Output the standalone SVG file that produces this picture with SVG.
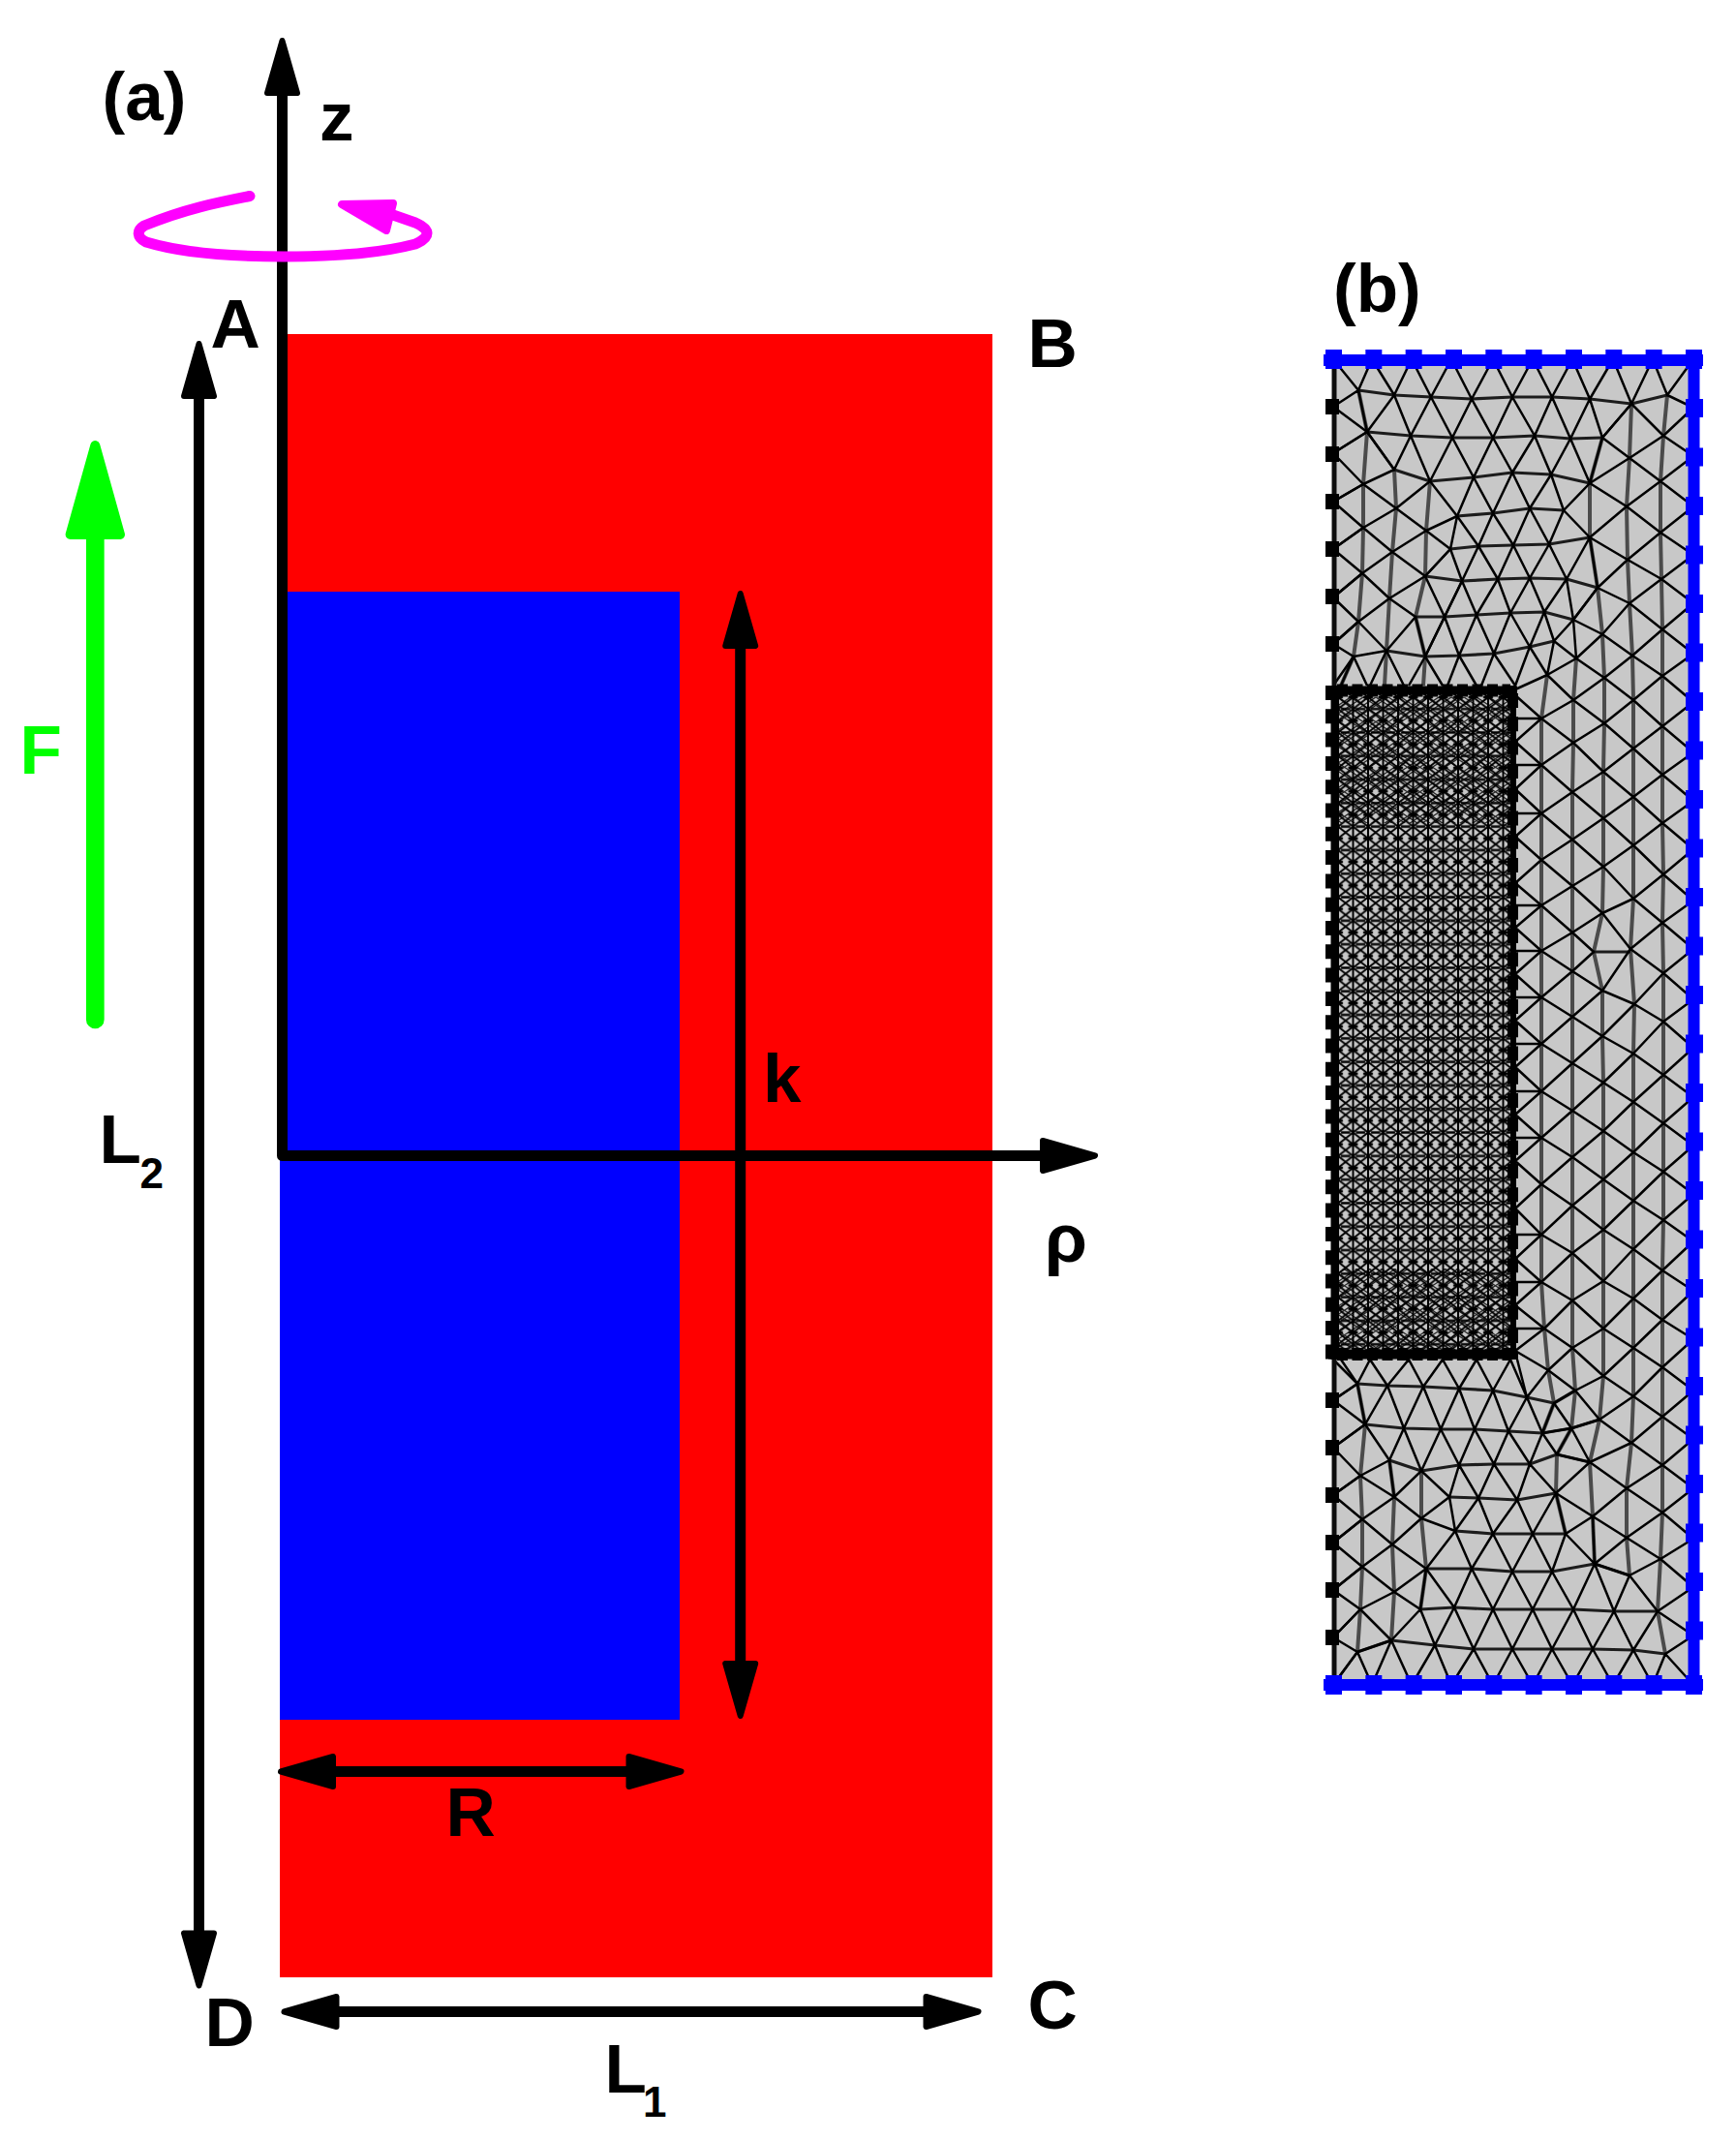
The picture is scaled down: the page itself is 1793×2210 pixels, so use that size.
<svg xmlns="http://www.w3.org/2000/svg" width="1793" height="2210" viewBox="0 0 1793 2210">
<style>
text{font-family:"Liberation Sans",Arial,sans-serif;font-weight:700;font-size:71px;fill:#000}
.sub{font-size:44px}
.ax{stroke:#000;stroke-width:11;fill:none;stroke-linecap:butt}
.d,.g,.v{fill:none;stroke-linejoin:round}
.d{stroke:#000;stroke-width:2.5}
.g{stroke:#1c1c1c;stroke-width:3.2}
.v{stroke:#4c4c4c;stroke-width:4}
</style>
<defs>
<path id="head" d="M0,4 L15.5,58 H-15.5 Z" fill="#000" stroke="#000" stroke-width="6" stroke-linejoin="round"/>
<filter id="soft" x="-2%" y="-2%" width="104%" height="104%"><feGaussianBlur stdDeviation="0.55"/></filter>
<pattern id="fine" patternUnits="userSpaceOnUse" x="1382" y="720" width="15.5" height="24.3">
<path d="M0,0V24.3M15.5,0V24.3M0,0L15.5,12.15L0,24.3M15.5,0L0,12.15L15.5,24.3" fill="none" stroke="#000" stroke-width="2"/>
<path d="M-5,0H5M10.5,0H20.5M-5,24.3H5M10.5,24.3H20.5M3,12.15H12.5" fill="none" stroke="#000" stroke-width="2.6"/>
</pattern>
<pattern id="finer" patternUnits="userSpaceOnUse" x="1382" y="720" width="13" height="17">
<path d="M0,0L13,8.5L0,17M13,0L0,8.5L13,17" fill="none" stroke="#000" stroke-width="1.4"/>
</pattern>
</defs>

<g id="body">
<rect x="289" y="345" width="736" height="1697" fill="#ff0000"/>
<rect x="289" y="611" width="413" height="1165" fill="#0000ff"/>
</g>

<g id="connectors">
<path class="ax" d="M291.5,95V1193.5H1080" stroke-linejoin="round"/>
<use href="#head" x="291.5" y="38"/>
<use href="#head" transform="translate(1135,1193.5) rotate(90)"/>
<path class="ax" d="M205.5,405V2000"/>
<use href="#head" x="205.5" y="351"/>
<use href="#head" transform="translate(205.5,2054.5) rotate(180)"/>
<path class="ax" d="M764.7,665V1720"/>
<use href="#head" x="764.7" y="609"/>
<use href="#head" transform="translate(764.7,1776) rotate(180)"/>
<path class="ax" d="M340,1829.5H655"/>
<use href="#head" transform="translate(286,1829.5) rotate(-90)"/>
<use href="#head" transform="translate(707.5,1829.5) rotate(90)"/>
<path class="ax" d="M345,2077.5H960"/>
<use href="#head" transform="translate(289.5,2077.5) rotate(-90)"/>
<use href="#head" transform="translate(1014.5,2077.5) rotate(90)"/>
<g id="force">
<path d="M98.3,550V1053" fill="none" stroke="#00ff00" stroke-width="18.7" stroke-linecap="round"/>
<path d="M98.3,460 L124,552 H72.6 Z" fill="#00ff00" stroke="#00ff00" stroke-width="10" stroke-linejoin="round"/>
</g>
<g id="rotation">
<path d="M258,202.5 C225,209 190,216 149,233 C141,238 141,245 151,250 C190,262 240,265 293,265 C345,265 395,261 429,252 C445,245 445,237 429,230 L406,222" fill="none" stroke="#ff00ff" stroke-width="11" stroke-linecap="round" stroke-linejoin="round"/>
<path d="M353,211 L406,210 L399,238 Z" fill="#ff00ff" stroke="#ff00ff" stroke-width="8" stroke-linejoin="round"/>
</g>
</g>

<g id="labels">
<text x="105.5" y="124">(a)</text>
<text x="330" y="145">z</text>
<text x="217.5" y="359">A</text>
<text x="1061.5" y="379">B</text>
<text x="1061.5" y="2095">C</text>
<text x="211.5" y="2113">D</text>
<text x="460.5" y="1895.5">R</text>
<text x="788" y="1137.5">k</text>
<text x="1079" y="1303">ρ</text>
<text x="20.5" y="798.5" style="fill:#00ff00">F</text>
<text x="102.5" y="1200.5">L</text><text class="sub" x="144.5" y="1226.5">2</text>
<text x="624.5" y="2160.5">L</text><text class="sub" x="664" y="2185.5">1</text>
<text x="1377" y="322">(b)</text>
</g>

<g id="mesh" filter="url(#soft)">
<rect x="1377" y="371" width="372" height="1369" fill="#c8c8c8"/>

<rect x="1380" y="715" width="183" height="685" fill="url(#fine)"/>
<rect x="1382" y="720" width="180" height="130" fill="url(#finer)" opacity="0.8"/>
<rect x="1382" y="1310" width="180" height="86" fill="url(#finer)" opacity="0.8"/>

<g id="mesh-verticals">
<path class="v" d="M1722,408 1718,450 1715,497 1715,550 1716,598 1717,650 1717,698 1717,750 1717,800 1717,850 1718,903 1717,953 1718,1005 1718,1055 1718,1110 1718,1160 1718,1210 1718,1260 1717,1312 1717,1363 1717,1412 1717,1463 1717,1513 1717,1562 1715,1610 1712,1664 1720,1708"/>
<path class="v" d="M1685,417 1683,473 1680,523 1681,578 1683,623 1686,677 1687,723 1687,773 1687,823 1687,873 1687,928 1684,980 1688,1037 1687,1088 1687,1138 1687,1190 1687,1240 1687,1290 1687,1341 1687,1392 1687,1442 1685,1490 1680,1537 1680,1588 1683,1627"/>
<path class="v" d="M1655,452 1642,499 1642,555 1650,607 1655,655 1657,700 1657,747 1656,797 1656,845 1656,895 1655,943 1646,983 1655,1023 1655,1070 1656,1118 1656,1168 1656,1218 1656,1270 1656,1323 1656,1372 1656,1421 1652,1466 1642,1510 1645,1566 1647,1615"/>
<path class="v" d="M1628,680 1625,723 1625,767 1624,818 1624,867 1624,915 1624,963 1624,1003 1624,1050 1624,1098 1624,1147 1624,1195 1624,1245 1624,1294 1624,1343 1624,1392 1627,1436 1623,1475 1608,1502 1607,1542 1617,1584"/>
<path class="v" d="M1598,697 1592,742 1592,790 1592,840 1592,888 1592,935 1592,982 1592,1030 1592,1078 1592,1127 1592,1175 1592,1223 1592,1275 1592,1324 1595,1372 1599,1415 1605,1449 1593,1480"/>
<path class="v" d="M1403,403 1412,446 1408,500 1408,545 1407,592 1403,642 1398,678 1385,708M1440,485 1442,525 1438,570 1435,618 1432,672 1430,708M1477,497 1473,548 1472,595 1462,637 1472,678 1470,708M1402,1429 1410,1471 1405,1524 1407,1569 1407,1618 1405,1662 1402,1706M1435,1508 1440,1546 1438,1595 1440,1644 1437,1694M1468,1519 1468,1568 1473,1620 1467,1662"/>
</g>

<g id="mesh-rows">
<path class="g" d="M1403,403 1440,408 1478,410 1520,412 1562,410 1603,410 1642,412 1685,417 1722,408"/>
<path class="g" d="M1412,446 1457,450 1500,452 1542,452 1585,450 1622,453 1655,452"/>
<path class="g" d="M1440,485 1477,497 1522,493 1562,488 1602,490 1642,499"/>
<path class="g" d="M1505,533 1542,530 1580,525 1615,527"/>
<path class="g" d="M1498,567 1527,564 1563,563 1600,562 1642,555"/>
<path class="g" d="M1472,595 1510,600 1547,598 1580,597 1618,598 1650,607"/>
<path class="g" d="M1462,637 1492,637 1525,635 1560,633 1595,632 1625,640"/>
<path class="g" d="M1432,672 1472,678 1507,677 1543,675 1580,668 1605,662"/>
<path class="g" d="M1402,1429 1433,1431 1470,1432 1507,1434 1542,1436 1577,1443 1605,1449 1627,1436"/>
<path class="g" d="M1410,1471 1450,1475 1488,1476 1523,1476 1558,1478 1593,1480 1623,1475 1652,1466"/>
<path class="g" d="M1435,1508 1468,1519 1507,1513 1543,1512 1580,1512 1608,1502 1642,1510"/>
<path class="g" d="M1497,1546 1527,1547 1567,1549 1607,1542"/>
<path class="g" d="M1503,1581 1542,1584 1583,1584 1617,1584"/>
<path class="g" d="M1473,1620 1520,1620 1562,1623 1603,1623 1647,1615 1683,1627"/>
<path class="g" d="M1467,1662 1502,1660 1542,1662 1583,1662 1625,1662 1667,1664 1712,1664"/>
<path class="g" d="M1402,1706 1437,1694 1482,1699 1522,1703 1562,1703 1603,1703 1645,1703 1687,1704 1720,1708"/>
<path class="g" d="M1646,983H1684"/>
</g>

<g id="mesh-diagonals">
<path class="d" d="M1377,371 1403,403 1417,371 1440,408 1458,371 1478,410 1499,371 1520,412 1542,371 1562,410 1583,371 1603,410 1624,371 1642,412 1666,371 1685,417 1707,371 1722,408 1749,371"/>
<path class="d" d="M1377,420 1403,403 1412,446 1440,408 1457,450 1478,410 1500,452 1520,412 1542,452 1562,410 1585,450 1603,410 1622,453 1642,412 1655,452 1685,417"/>
<path class="d" d="M1412,446 1440,485 1457,450 1477,497 1500,452 1522,493 1542,452 1562,488 1585,450 1602,490 1622,453 1642,499 1655,452"/>
<path class="d" d="M1377,420 1412,446 1377,468 1408,500 1377,518 1408,545 1377,567 1407,592 1377,617 1403,642 1377,665 1398,678 1377,708"/>
<path class="d" d="M1412,446 1377,468M1408,500 1377,518M1408,545 1377,567M1407,592 1377,617M1403,642 1377,665"/>
<path class="d" d="M1412,446 1440,485 1408,500 1442,525 1408,545 1438,570 1407,592 1435,618 1403,642 1432,672 1398,678"/>
<path class="d" d="M1442,525 1477,497M1442,525 1473,548 1438,570 1472,595 1435,618 1462,637 1432,672"/>
<path class="d" d="M1477,497 1505,533 1473,548 1498,567 1472,595 1492,637 1510,600M1492,637 1472,678 1462,637"/>
<path class="d" d="M1505,533 1522,493 1542,530 1562,488 1580,525 1602,490 1615,527 1642,499"/>
<path class="d" d="M1615,527 1642,555M1498,567 1505,533 1527,564 1542,530 1563,563 1580,525 1600,562 1615,527"/>
<path class="d" d="M1472,595 1498,567 1510,600 1527,564 1547,598 1563,563 1580,597 1600,562 1618,598 1642,555 1650,607"/>
<path class="d" d="M1492,637 1510,600 1525,635 1547,598 1560,633 1580,597 1595,632 1618,598 1625,640 1650,607"/>
<path class="d" d="M1472,678 1492,637 1507,677 1525,635 1543,675 1560,633 1580,668 1595,632 1605,662 1625,640 1628,680"/>
<path class="d" d="M1385,708 1398,678 1412,708M1415,708 1432,672 1450,708M1455,708 1472,678 1490,708M1495,708 1507,677 1525,708M1530,708 1543,675 1565,708M1565,708 1580,668 1598,697 1605,662 1628,680M1565,712 1598,697"/>
<path class="d" d="M1722,408 1749,421 1718,450 1749,471 1715,497 1749,523 1715,550 1749,573 1716,598 1749,623 1717,650 1749,675 1717,698 1749,725 1717,750 1749,777 1717,800 1749,827 1717,850 1749,877 1718,903 1749,930 1717,953 1749,980 1718,1005 1749,1032 1718,1055 1749,1082 1718,1110 1749,1133 1718,1160 1749,1183 1718,1210 1749,1233 1718,1260 1749,1282 1717,1312 1749,1333 1717,1363 1749,1383 1717,1412 1749,1436 1717,1463 1749,1486 1717,1513 1749,1537 1717,1562 1749,1589 1715,1610 1749,1639 1712,1664 1749,1689 1720,1708"/>
<path class="d" d="M1685,417 1718,450 1683,473 1715,497 1680,523 1715,550 1681,578 1716,598 1683,623 1717,650 1686,677 1717,698 1687,723 1717,750 1687,773 1717,800 1687,823 1717,850 1687,873 1718,903 1687,928 1717,953 1684,980 1718,1005 1688,1037 1718,1055 1687,1088 1718,1110 1687,1138 1718,1160 1687,1190 1718,1210 1687,1240 1718,1260 1687,1290 1717,1312 1687,1341 1717,1363 1687,1392 1717,1412 1687,1442 1717,1463 1685,1490 1717,1513 1680,1537 1717,1562 1680,1588 1715,1610 1683,1627 1712,1664"/>
<path class="d" d="M1685,417 1655,452 1683,473 1642,499 1680,523 1642,555 1681,578 1650,607 1683,623 1655,655 1686,677 1657,700 1687,723 1657,747 1687,773 1656,797 1687,823 1656,845 1687,873 1656,895 1687,928 1655,943 1684,980 1655,1023 1688,1037 1655,1070 1687,1088 1656,1118 1687,1138 1656,1168 1687,1190 1656,1218 1687,1240 1656,1270 1687,1290 1656,1323 1687,1341 1656,1372 1687,1392 1656,1421 1687,1442 1652,1466 1685,1490 1642,1510 1680,1537 1645,1566 1680,1588 1647,1615 1683,1627"/>
<path class="d" d="M1650,607 1625,640 1655,655 1628,680 1657,700 1625,723 1657,747 1625,767 1656,797 1624,818 1656,845 1624,867 1656,895 1624,915 1655,943 1624,963 1646,983 1624,1003 1655,1023 1624,1050 1655,1070 1624,1098 1656,1118 1624,1147 1656,1168 1624,1195 1656,1218 1624,1245 1656,1270 1624,1294 1656,1323 1624,1343 1656,1372 1624,1392 1656,1421 1627,1436 1652,1466 1623,1475 1642,1510 1608,1502"/>
<path class="d" d="M1628,680 1598,697 1625,723 1592,742 1625,767 1592,790 1624,818 1592,840 1624,867 1592,888 1624,915 1592,935 1624,963 1592,982 1624,1003 1592,1030 1624,1050 1592,1078 1624,1098 1592,1127 1624,1147 1592,1175 1624,1195 1592,1223 1624,1245 1592,1275 1624,1294 1592,1324 1624,1343 1595,1372 1624,1392 1599,1415 1627,1436 1605,1449 1623,1475 1593,1480"/>
<path class="d" d="M1565,718 1592,742 1565,766 1592,790 1565,815 1592,840 1565,864 1592,888 1565,912 1592,935 1565,958 1592,982 1565,1006 1592,1030 1565,1054 1592,1078 1565,1102 1592,1127 1565,1151 1592,1175 1565,1199 1592,1223 1565,1248 1592,1275 1565,1300 1592,1324 1565,1348 1595,1372 1565,1395 1599,1415 1577,1443 1567,1404"/>
<path class="d" d="M1565,742H1592M1565,790H1592M1565,840H1592M1565,935H1592M1565,982H1592M1565,1030H1592M1565,1078H1592M1565,1127H1592M1565,1175H1592M1565,1275H1592M1565,1324H1592M1565,1372H1595"/>
<path class="d" d="M1385,1404 1402,1429 1415,1404 1433,1431 1455,1404 1470,1432 1490,1404 1507,1434 1525,1404 1542,1436 1560,1404 1577,1443"/>
<path class="d" d="M1377,1404 1402,1429 1377,1446 1410,1471 1377,1495 1405,1524 1377,1544 1407,1569 1377,1593 1407,1618 1377,1642 1405,1662 1377,1691 1402,1706 1377,1740"/>
<path class="d" d="M1377,1446 1402,1429M1377,1495 1410,1471M1377,1544 1405,1524M1377,1593 1407,1569M1377,1642 1407,1618M1377,1691 1405,1662"/>
<path class="d" d="M1402,1429 1410,1471 1433,1431 1450,1475 1470,1432 1488,1476 1507,1434 1523,1476 1542,1436 1558,1478 1577,1443 1593,1480 1605,1449"/>
<path class="d" d="M1410,1471 1435,1508 1450,1475 1468,1519 1488,1476 1507,1513 1523,1476 1543,1512 1558,1478 1580,1512 1593,1480 1608,1502 1623,1475"/>
<path class="d" d="M1405,1524 1435,1508 1440,1546 1468,1519 1497,1546 1507,1513 1527,1547 1543,1512 1567,1549 1580,1512 1607,1542 1642,1510M1607,1542 1645,1566"/>
<path class="d" d="M1405,1524 1440,1546 1407,1569 1438,1595 1407,1618 1440,1644 1405,1662 1437,1694 1402,1706"/>
<path class="d" d="M1440,1546 1468,1568 1438,1595 1473,1620 1440,1644 1467,1662 1473,1620 1503,1581 1468,1568 1497,1546 1503,1581 1527,1547 1542,1584 1567,1549 1583,1584 1607,1542 1617,1584 1645,1566 1647,1615 1617,1584 1603,1623 1583,1584 1562,1623 1542,1584 1520,1620 1503,1581"/>
<path class="d" d="M1467,1662 1437,1694 1467,1662 1482,1699 1502,1660 1522,1703 1542,1662 1562,1703 1583,1662 1603,1703 1625,1662 1645,1703 1667,1664 1687,1704 1712,1664"/>
<path class="d" d="M1473,1620 1502,1660 1520,1620 1542,1662 1562,1623 1583,1662 1603,1623 1625,1662 1647,1615 1667,1664 1683,1627"/>
<path class="d" d="M1377,1740 1402,1706 1417,1740 1437,1694 1458,1740 1482,1699 1499,1740 1522,1703 1542,1740 1562,1703 1583,1740 1603,1703 1624,1740 1645,1703 1666,1740 1687,1704 1707,1740 1720,1708 1749,1740"/>
</g>

<g id="mesh-edges-black">
<path d="M1378,371V1740" fill="none" stroke="#111" stroke-width="5"/>
<path d="M1372,713H1567" fill="none" stroke="#000" stroke-width="9"/>
<path d="M1372,1398.5H1567" fill="none" stroke="#000" stroke-width="10"/>
<path d="M1378,708V1404" fill="none" stroke="#000" stroke-width="7"/>
<path d="M1563,708V1404" fill="none" stroke="#000" stroke-width="6"/>
<path d="M1376,412V680" fill="none" stroke="#000" stroke-width="14" stroke-dasharray="16 33"/>
<path d="M1376,1438V1700" fill="none" stroke="#000" stroke-width="14" stroke-dasharray="16 33"/>
<path d="M1376,708V1404" fill="none" stroke="#000" stroke-width="14" stroke-dasharray="15 9.3"/>
<path d="M1562.5,716V1404" fill="none" stroke="#000" stroke-width="11" stroke-dasharray="15 9.3"/>
<path d="M1381,713H1560" fill="none" stroke="#000" stroke-width="13" stroke-dasharray="11 4.5"/>
<path d="M1381,1398.5H1560" fill="none" stroke="#000" stroke-width="13" stroke-dasharray="11 4.5"/>
</g>

<g id="mesh-edges-blue">
<path d="M1367,372H1759" fill="none" stroke="#0000ff" stroke-width="12"/>
<path d="M1367,1740H1759" fill="none" stroke="#0000ff" stroke-width="12"/>
<path d="M1749.5,366V1746" fill="none" stroke="#0000ff" stroke-width="12"/>
<path d="M1369,371H1758" fill="none" stroke="#0000ff" stroke-width="20" stroke-dasharray="17 24.33"/>
<path d="M1369,1740H1758" fill="none" stroke="#0000ff" stroke-width="20" stroke-dasharray="17 24.33"/>
<path d="M1750,412V1700" fill="none" stroke="#0000ff" stroke-width="18" stroke-dasharray="19 31.5"/>
</g>
</g>
</svg>
